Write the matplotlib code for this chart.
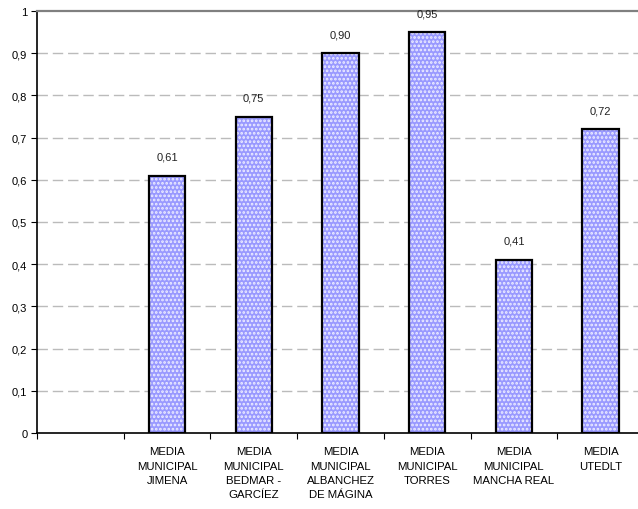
import matplotlib
matplotlib.use("Agg")
import matplotlib.pyplot as plt
import numpy as np

categories = ["", "MEDIA\nMUNICIPAL\nJIMENA", "MEDIA\nMUNICIPAL\nBEDMAR -\nGARCÍEZ",
              "MEDIA\nMUNICIPAL\nALBANCHEZ\nDE MÁGINA", "MEDIA\nMUNICIPAL\nTORRES",
              "MEDIA\nMUNICIPAL\nMANCHA REAL", "MEDIA\nUTEDLT"]
values = [np.nan, 0.61, 0.75, 0.90, 0.95, 0.41, 0.72]
value_labels = ["", "0,61", "0,75", "0,90", "0,95", "0,41", "0,72"]
yticks = [0, 0.1, 0.2, 0.3, 0.4, 0.5, 0.6, 0.7, 0.8, 0.9, 1.0]
ytick_labels = ["0", "0,1", "0,2", "0,3", "0,4", "0,5", "0,6", "0,7", "0,8", "0,9", "1"]

plt.rcParams['font.family'] = ['Liberation Sans', 'DejaVu Sans']
plt.rcParams['hatch.linewidth'] = 1.3

W, H = 638, 510
fig = plt.figure(figsize=(W/100, H/100), dpi=100)
left, right = 37, 644
top, bottom = 12, 434
ax = fig.add_axes([left/W, 1 - bottom/H, (right-left)/W, (bottom-top)/H])

x = np.arange(len(categories))
bw = 0.42
ax.bar(x, values, width=bw, color='#9999FF', edgecolor='#EEEEFF', hatch='....', linewidth=0, zorder=3)
ax.bar(x, values, width=bw, facecolor='none', edgecolor='black', linewidth=1.6, zorder=4)

for xi, v, lab in zip(x, values, value_labels):
    if lab:
        ax.text(xi, v + 0.045, lab, ha='center', va='center', fontsize=8, color='#222222')

ax.set_xlim(-0.5, len(categories) - 0.5)
ax.set_ylim(0, 1)
ax.set_yticks(yticks)
ax.set_yticklabels(ytick_labels, fontsize=8)
ax.set_xticks(x)
ax.set_xticklabels(categories, fontsize=8.2, linespacing=1.55, va='top')
ax.set_xticks(np.arange(len(categories)) - 0.5, minor=True)
ax.tick_params(axis='x', which='major', length=0, pad=9.5)
ax.tick_params(axis='x', which='minor', length=4, width=0.8, direction='out')
ax.tick_params(axis='y', length=4, width=0.8, direction='out', pad=3)

for yv in yticks[1:-1]:
    ax.axhline(yv, color='#BBBBBB', linestyle=(0, (7.5, 3.5)), linewidth=1.0, zorder=1)

ax.spines['top'].set_color('#808080')
ax.spines['top'].set_linewidth(1.6)
ax.spines['right'].set_visible(False)
ax.spines['left'].set_linewidth(1.2)
ax.spines['bottom'].set_linewidth(1.2)

fig.savefig("out.png", dpi=100)
